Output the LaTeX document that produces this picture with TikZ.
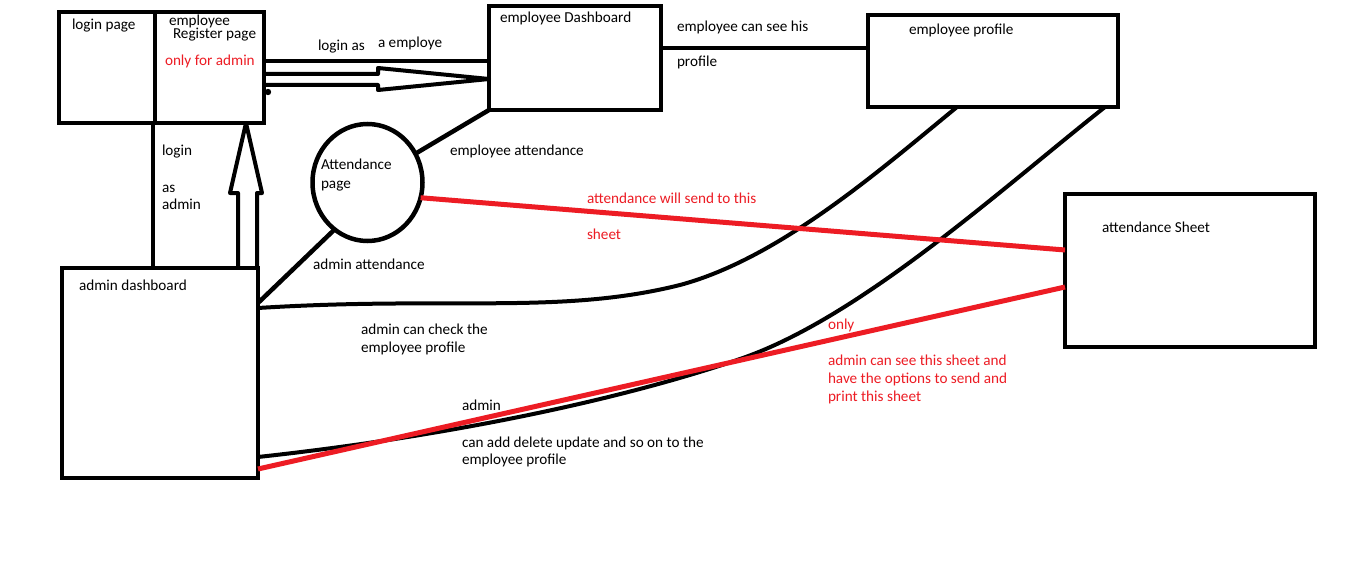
\documentclass[tikz,border=0pt]{standalone}
\usepackage{fontspec}
\setmainfont{Carlito}
\usetikzlibrary{shapes.geometric}
\definecolor{pred}{HTML}{ED1C24}
\begin{document}
\begin{tikzpicture}[x=1pt,y=-1pt,
  boxnode/.style={draw, rectangle, line width=4.5pt, inner sep=0pt, outer sep=0pt},
  conn/.style={line width=4.5pt},
  redconn/.style={line width=5pt, draw=pred},
  hollow/.style={line width=4pt, line join=round},
  lbl/.style={anchor=base west, inner sep=0pt, outer sep=0pt, font=\fontsize{15.2}{18}\selectfont, text=black},
  rlbl/.style={lbl, text=pred}]
\useasboundingbox (0,0) rectangle (1360,575);
\fill[white] (0,0) rectangle (1360,575);

% boxes
\node[boxnode, minimum width=205pt, minimum height=111pt] (login) at (161.5,67.5) {};
\node[boxnode, minimum width=172pt, minimum height=104pt] (edash) at (575,58) {};
\node[boxnode, minimum width=250pt, minimum height=92pt] (eprof) at (993,61) {};
\node[boxnode, minimum width=250pt, minimum height=153pt] (sheet) at (1190,270.5) {};
\node[boxnode, minimum width=196pt, minimum height=210pt] (admin) at (160,373) {};
\node[draw, ellipse, line width=4.5pt, inner sep=0pt, outer sep=0pt, minimum width=110pt, minimum height=117pt] (att) at (367.5,182.5) {};

% divider in login box
\draw[conn] (login.north -| 155,0) -- (login.south -| 155,0);

% login as employee
\draw[conn] (login.east |- 0,61) -- (edash.west |- 0,61);
\draw[hollow] (login.east |- 0,74) -- (378,74) -- (378,68) -- (edash.west |- 0,79) -- (378,90) -- (378,85) -- (login.east |- 0,85);
\fill (268,92) circle (3.2);

% dashboard to profile
\draw[conn] (edash.east |- 0,48) -- (eprof.west |- 0,48);

% attendance page links
\draw[conn] (att.31) -- (edash.south west);
\draw[conn] (att.235) -- (admin.east |- 0,303);

% login as admin
\draw[conn] (login.south -| 153,0) -- (admin.north -| 153,0);
\draw[hollow] (admin.north -| 238,0) -- (238,193) -- (230,193) -- (login.south -| 246,0) -- (262,193) -- (257,193) -- (admin.north -| 257,0);

% curves admin -> employee profile
\coordinate (c1a) at (admin.east |- 0,308);
\coordinate (c1b) at (eprof.south -| 957,0);
\coordinate (c2a) at (admin.east |- 0,457);
\coordinate (c2b) at (eprof.south -| 1105,0);
\draw[conn, line width=4pt] (c1a) .. controls (450,296) and (560,315) .. (680,285)
  .. controls (780,258) and (880,170) .. (c1b);
\draw[conn, line width=4pt] (c2a) .. controls (450,436) and (620,400) .. (740,359)
  .. controls (860,318) and (1000,190) .. (c2b);

% red lines to sheet
\draw[redconn] (att.-16) -- (sheet.west |- 0,250);
\draw[redconn] (admin.east |- 0,469) -- (sheet.west |- 0,287);

% labels
\node[lbl] (t1) at (72,30) {login page};
\node[lbl] (t2) at (169,26) {employee};
\node[lbl] (t3) at (173,39) {Register page};
\node[rlbl] (t4) at (165,66) {only for admin};
\node[lbl] (t5) at (318,51) {login as};
\node[lbl] (t6) at (378,48) {a employe};
\node[lbl] (t7) at (500,23) {employee Dashboard};
\node[lbl] (t8) at (677,32) {employee can see his};
\node[lbl] (t9) at (677,67) {profile};
\node[lbl] (t10) at (909,35) {employee profile};
\node[lbl] (t11) at (321,170) {Attendance};
\node[lbl] (t12) at (321,188) {page};
\node[lbl] (t13) at (450,156) {employee attendance};
\node[rlbl] (t14) at (587,203) {attendance will send to this};
\node[rlbl] (t15) at (587,239) {sheet};
\node[lbl] (t16) at (1102,232) {attendance Sheet};
\node[lbl] (t17) at (162,156) {login};
\node[lbl] (t18) at (162,192) {as};
\node[lbl] (t19) at (162,209) {admin};
\node[lbl] (t20) at (79,290) {admin dashboard};
\node[lbl] (t21) at (313,269) {admin attendance};
\node[lbl] (t22) at (361,334) {admin can check the};
\node[lbl] (t23) at (361,352) {employee profile};
\node[lbl] (t24) at (462,410) {admin};
\node[lbl] (t25) at (462,447) {can add delete update and so on to the};
\node[lbl] (t26) at (462,464) {employee profile};
\node[rlbl] (t27) at (828,329) {only};
\node[rlbl] (t28) at (828,365) {admin can see this sheet and};
\node[rlbl] (t29) at (828,383) {have the options to send and};
\node[rlbl] (t30) at (828,401) {print this sheet};
\end{tikzpicture}
\end{document}
